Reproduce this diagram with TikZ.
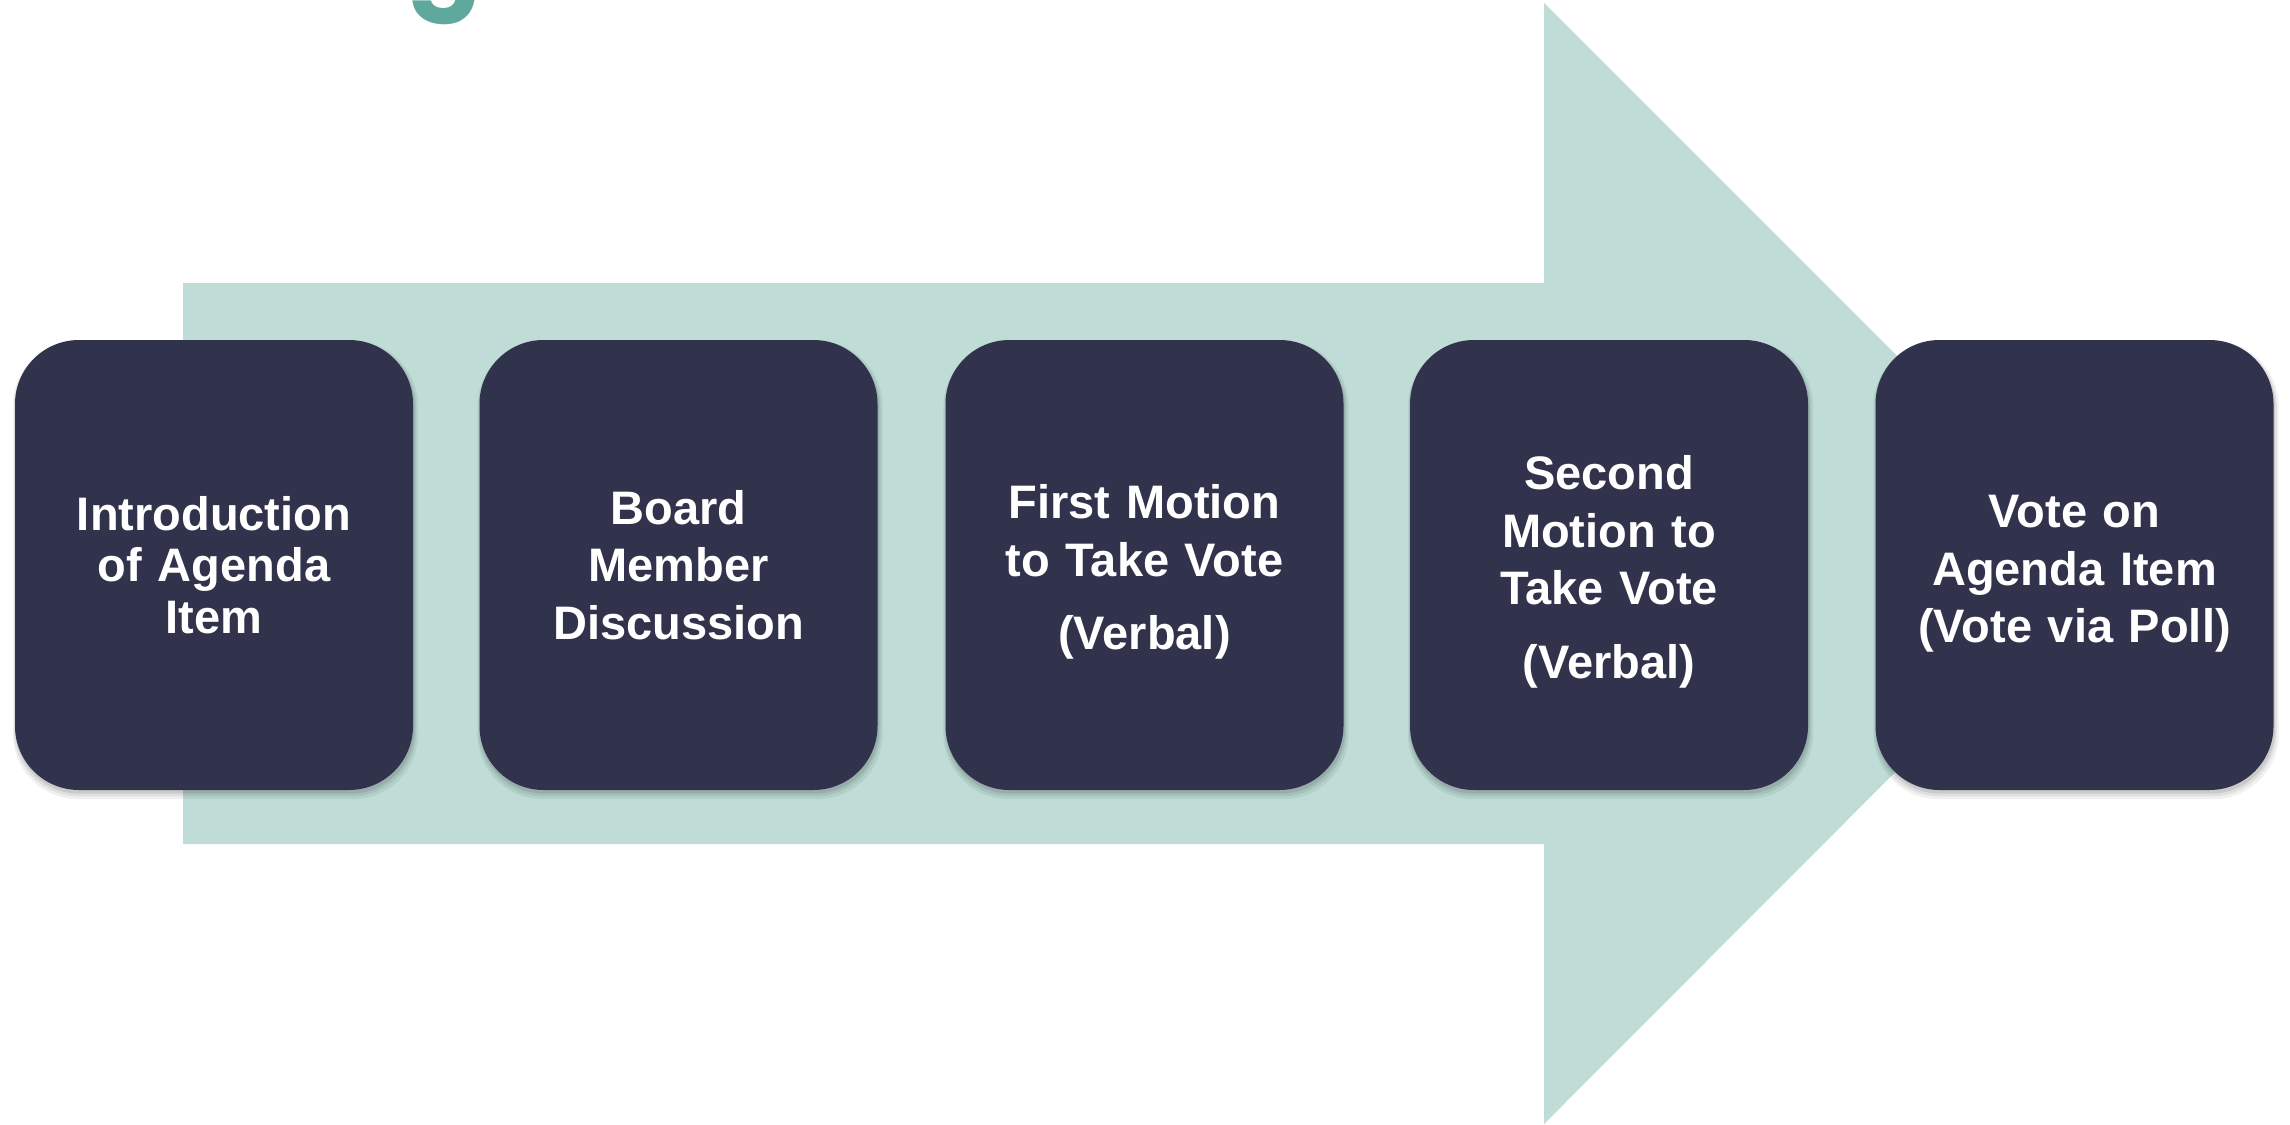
\documentclass[tikz,border=0pt]{standalone}
\usepackage{fontspec}
\setmainfont{Liberation Sans}
\newfontfamily\titlefont{Poppins}
\usetikzlibrary{shadows}
\definecolor{arrowteal}{HTML}{BFDCD7}
\definecolor{boxnavy}{HTML}{31324B}
\definecolor{titleteal}{HTML}{5FA89C}
% taller first line, used to lower a text block a little in its box
\newcommand{\lowerstrut}{\rule{0pt}{48pt}}
\begin{document}
\begin{tikzpicture}[x=1pt,y=-1pt,
  softshadow/.style={
    general shadow={fill=black, opacity=0.06, shadow yshift=-5pt, shadow xshift=1.5pt, shadow scale=1.018},
    general shadow={fill=black, opacity=0.07, shadow yshift=-4pt, shadow xshift=1pt, shadow scale=1.010},
    general shadow={fill=black, opacity=0.09, shadow yshift=-3pt, shadow xshift=1pt, shadow scale=1.003}},
  stepbox/.style={softshadow, fill=boxnavy, rounded corners=64pt,
    minimum width=398pt, minimum height=450pt, inner sep=0pt,
    text=white, align=center, text width=390pt,
    font=\fontsize{47}{57.5}\selectfont\bfseries},
  titletext/.style={anchor=base west, inner sep=0pt, text=titleteal,
    font=\titlefont\bfseries\fontsize{110}{120}\selectfont}]

% page
\fill[white] (0,0) rectangle (2290,1124);
\useasboundingbox (0,0) rectangle (2290,1124);

% heading, running off the top edge
\begin{scope}
  \clip (0,0) rectangle (2290,1124);
  \node[titletext] (title) at (106,-5) {Voting Process};
\end{scope}

% big process arrow behind the steps
\fill[arrowteal] (183,283) -- (1544,283) -- (1544,3) -- (2104,563)
  -- (1544,1124) -- (1544,844) -- (183,844) -- cycle;

% steps
\node[stepbox, font=\fontsize{47}{51.5}\selectfont\bfseries] (s1) at (214,565)
  {Introduction\\of Agenda\\Item};
\node[stepbox] (s2) at (678.5,565) {Board\\Member\\Discussion};
\node[stepbox] (s3) at (1144.5,565) {\lowerstrut First Motion\\to Take Vote\\[16pt](Verbal)};
\node[stepbox] (s4) at (1609,565) {\lowerstrut Second\\Motion to\\Take Vote\\[16pt](Verbal)};
\node[stepbox] (s5) at (2074.5,565) {\rule{0pt}{50pt}Vote on\\Agenda Item\\(Vote via Poll)};
\end{tikzpicture}
\end{document}
